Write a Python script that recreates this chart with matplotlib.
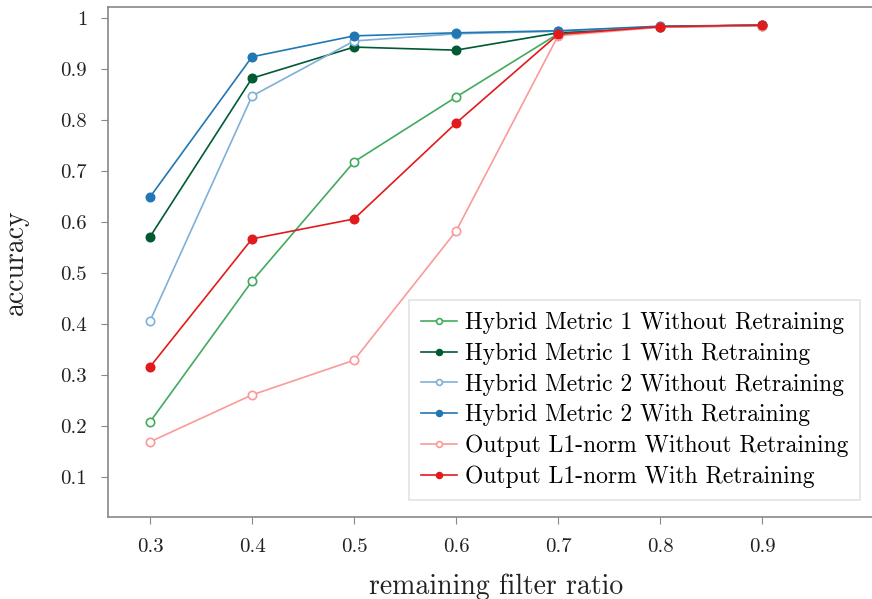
import numpy as np
import matplotlib
matplotlib.use("Agg")
import matplotlib.pyplot as plt

plt.rcParams['font.family'] = ['cmr10', 'DejaVu Serif']
plt.rcParams['mathtext.fontset'] = 'cm'
plt.rcParams['axes.formatter.use_mathtext'] = True

# data
ratio = [0.3, 0.4, 0.5, 0.6, 0.7, 0.8, 0.9]
hm1_without = [0.208, 0.484, 0.718, 0.845, 0.969, 0.982, 0.985]
hm1_with = [0.571, 0.882, 0.943, 0.937, 0.971, 0.983, 0.986]
hm2_without = [0.406, 0.847, 0.955, 0.969, 0.974, 0.983, 0.986]
hm2_with = [0.649, 0.924, 0.965, 0.971, 0.975, 0.984, 0.986]
l1_without = [0.169, 0.261, 0.329, 0.582, 0.965, 0.982, 0.985]
l1_with = [0.316, 0.567, 0.606, 0.794, 0.968, 0.983, 0.986]

y_ticks = [0.1, 0.2, 0.3, 0.4, 0.5, 0.6, 0.7, 0.8, 0.9, 1.0]
y_ticklabels = ['0.1', '0.2', '0.3', '0.4', '0.5', '0.6', '0.7', '0.8', '0.9', '1']

series = [
    ('Hybrid Metric 1 Without Retraining', hm1_without, '#41ab5d', False),
    ('Hybrid Metric 1 With Retraining', hm1_with, '#005a32', True),
    ('Hybrid Metric 2 Without Retraining', hm2_without, '#7fb0d8', False),
    ('Hybrid Metric 2 With Retraining', hm2_with, '#2077b4', True),
    ('Output L1-norm Without Retraining', l1_without, '#fb9a99', False),
    ('Output L1-norm With Retraining', l1_with, '#e31a1c', True),
]

fig = plt.figure(figsize=(8.72, 5.99), dpi=100)
ax = fig.add_axes([108 / 872, 1 - 517 / 599, 1 - 108 / 872, 510 / 599])

for name, vals, col, filled in series:
    ax.plot(ratio, vals, color=col, lw=1.2, marker='o', ms=6,
            markerfacecolor=col if filled else 'white',
            markeredgecolor=col, markeredgewidth=1.2, label=name)

ax.set_xlim(0.2588, 1.0078)
ax.set_ylim(0.0216, 1.0216)
ax.set_xticks(ratio)
ax.set_xticklabels([f'{r:.1f}' for r in ratio])
ax.set_yticks(y_ticks)
ax.set_yticklabels(y_ticklabels)

for s in ['left', 'bottom', 'top']:
    ax.spines[s].set_color('#888888')
    ax.spines[s].set_linewidth(1.2)
ax.spines['right'].set_visible(False)
ax.tick_params(colors='#888888', labelcolor='#222222', labelsize=15,
               length=5, width=0.8, direction='out', pad=10)

ax.set_xlabel('remaining filter ratio', fontsize=20, color='#222222')
ax.xaxis.set_label_coords((496 - 108) / 764, -(574 - 517) / 510)
ax.set_ylabel('accuracy', fontsize=20, color='#222222')
ax.yaxis.set_label_coords((29 - 108) / 764, 0.5)

leg = ax.legend(loc='lower right', bbox_to_anchor=(860 / 872, 1 - 500 / 599),
                bbox_transform=fig.transFigure, fontsize=17, frameon=True,
                fancybox=False, edgecolor='#dddddd', handlelength=1.5,
                handletextpad=0.35, labelspacing=0.36, borderpad=0.5,
                borderaxespad=0, markerscale=0.7)
leg.get_frame().set_linewidth(1.2)

fig.savefig('out.png', dpi=100)
